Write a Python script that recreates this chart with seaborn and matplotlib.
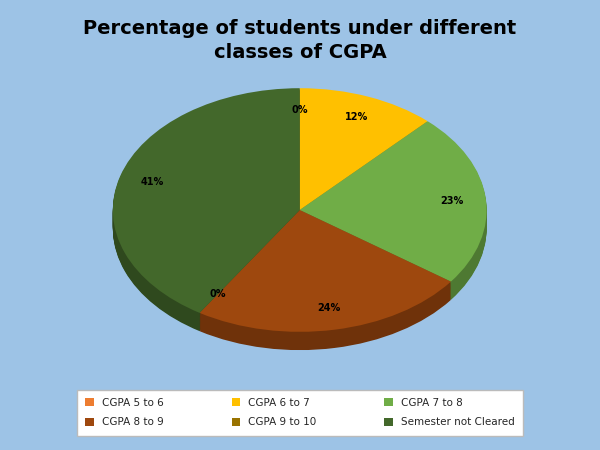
import matplotlib
matplotlib.use("Agg")
import matplotlib.pyplot as plt
import seaborn as sns
import numpy as np
from matplotlib.colors import to_rgb

categories = ["CGPA 5 to 6", "CGPA 6 to 7", "CGPA 7 to 8", "CGPA 8 to 9", "CGPA 9 to 10", "Semester not Cleared"]
values = [0, 12, 23, 24, 0, 41]
colors = ["#ED7D31", "#FFC000", "#70AD47", "#9E480E", "#997300", "#43682B"]

sns.set_theme(style="white")
plt.rcParams['font.family'] = ['DejaVu Sans']
bg = "#9DC3E6"
fig = plt.figure(figsize=(6, 4.5), dpi=100, facecolor=bg)
ax = fig.add_axes([0.188, 0.222, 0.623, 0.582])
ax.set_facecolor(bg)

dark = [tuple(c * 0.7 for c in to_rgb(col)) for col in colors]
depth = 0.15
for d in np.linspace(depth, 0.01, 20):
    ax.pie(values, colors=dark, startangle=90, counterclock=False, center=(0, -d),
           wedgeprops=dict(linewidth=0))
wedges, texts, autotexts = ax.pie(values, colors=colors, startangle=90, counterclock=False,
                                  autopct=lambda p: f"{p:.0f}%", pctdistance=0.82,
                                  wedgeprops=dict(linewidth=0),
                                  textprops=dict(fontsize=7, fontweight='bold', color='black'))
ax.set_aspect('auto')
ax.set_xlim(-1, 1)
ax.set_ylim(-1 - depth, 1)
ax.axis('off')

fig.text(0.5, 0.91, "Percentage of students under different\nclasses of CGPA", ha='center', va='center',
         fontsize=14, fontweight='bold', color='black', linespacing=1.35)

order = [0, 3, 1, 4, 2, 5]
leg = fig.legend([wedges[i] for i in order], [categories[i] for i in order],
                 loc='lower center', bbox_to_anchor=(0.5, 0.02), ncol=3,
                 fontsize=7.5, frameon=True, fancybox=False, edgecolor='#bbbbbb',
                 handlelength=0.8, handleheight=0.8, columnspacing=6.5, borderpad=0.8,
                 labelspacing=0.9)
leg.get_frame().set_facecolor('white')
leg.get_frame().set_alpha(1)
fig.savefig("out.png", dpi=100, facecolor=bg)
